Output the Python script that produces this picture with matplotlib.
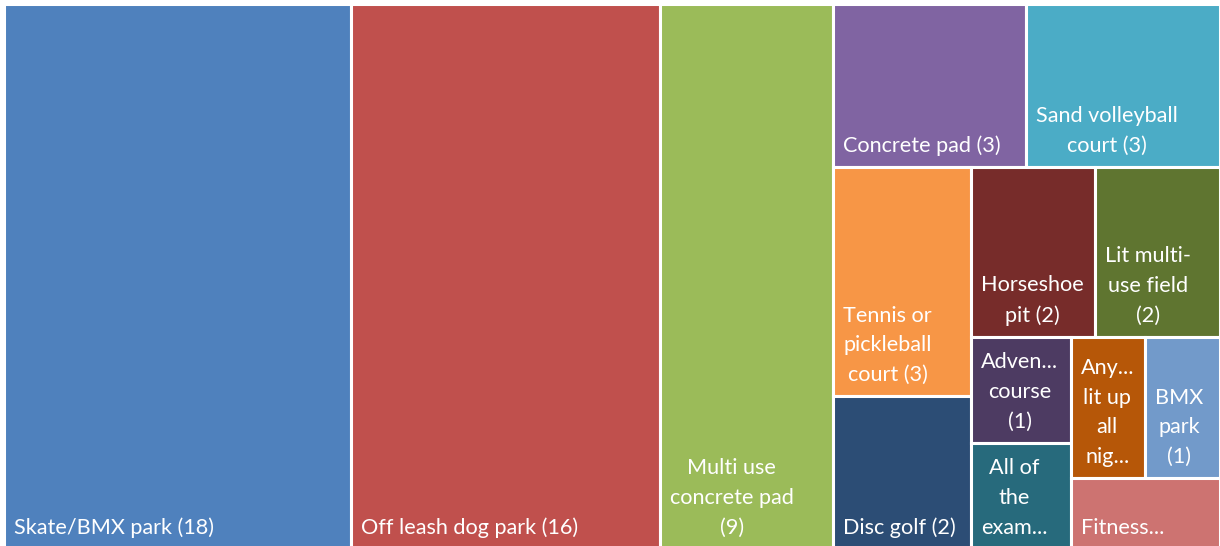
import matplotlib
import matplotlib.pyplot as plt
from matplotlib.patches import Rectangle

matplotlib.use("Agg")

# tile labels as shown in the chart (already wrapped / truncated)
LABELS = [
    "Skate/BMX park (18)",
    "Off leash dog park (16)",
    "Multi use\nconcrete pad\n(9)",
    "Concrete pad (3)",
    "Sand volleyball\ncourt (3)",
    "Tennis or\npickleball\ncourt (3)",
    "Disc golf (2)",
    "Horseshoe\npit (2)",
    "Lit multi-\nuse field\n(2)",
    "Adven...\ncourse\n(1)",
    "All of\nthe\nexam...",
    "Any...\nlit up\nall\nnig...",
    "BMX\npark\n(1)",
    "Fitness...",
]
VALUES = [18, 16, 9, 3, 3, 3, 2, 2, 2, 1, 1, 1, 1, 1]
COLORS = [
    "#4F81BD", "#C0504D", "#9BBB59", "#8064A2", "#4BACC6", "#F79646",
    "#2C4D75", "#772C2A", "#5F7530", "#4D3B62", "#276A7C", "#B65708",
    "#729ACA", "#CD7371",
]

# how many tiles go into each strip of the squarified layout
STRIPS = [1, 1, 1, 2, 2, 2, 2, 2, 1]

W_PX, H_PX = 1220, 546
AREA = (3.5, 3.5, 1216.0, 545.0)  # x, y, w, h in pixels (y downward)


def strip_layout(values, strips, x, y, w, h):
    rects = []
    i = 0
    for n in strips:
        group = values[i:i + n]
        s = sum(group)
        rest = sum(values[i:])
        if w >= h:
            sw = w * s / rest
            yy = y
            for v in group:
                hh = h * v / s
                rects.append((x, yy, sw, hh))
                yy += hh
            x += sw
            w -= sw
        else:
            sh = h * s / rest
            xx = x
            for v in group:
                ww = w * v / s
                rects.append((xx, y, ww, sh))
                xx += ww
            y += sh
            h -= sh
        i += n
    return rects


def main():
    fig = plt.figure(figsize=(W_PX / 100, H_PX / 100), dpi=100)
    ax = fig.add_axes([0, 0, 1, 1])
    ax.set_xlim(0, W_PX)
    ax.set_ylim(H_PX, 0)
    ax.axis("off")

    rects = strip_layout(VALUES, STRIPS, *AREA)
    for (x, y, w, h), label, color in zip(rects, LABELS, COLORS):
        ax.add_patch(Rectangle((x, y), w, h, facecolor=color,
                               edgecolor="white", linewidth=2.2))
        ax.text(x + 10, y + h - 11, label, ha="left", va="bottom",
                multialignment="center", color="white", fontsize=15.6,
                family="Lato", linespacing=1.6)

    fig.savefig("out.png", dpi=100, facecolor="white")


if __name__ == "__main__":
    main()
